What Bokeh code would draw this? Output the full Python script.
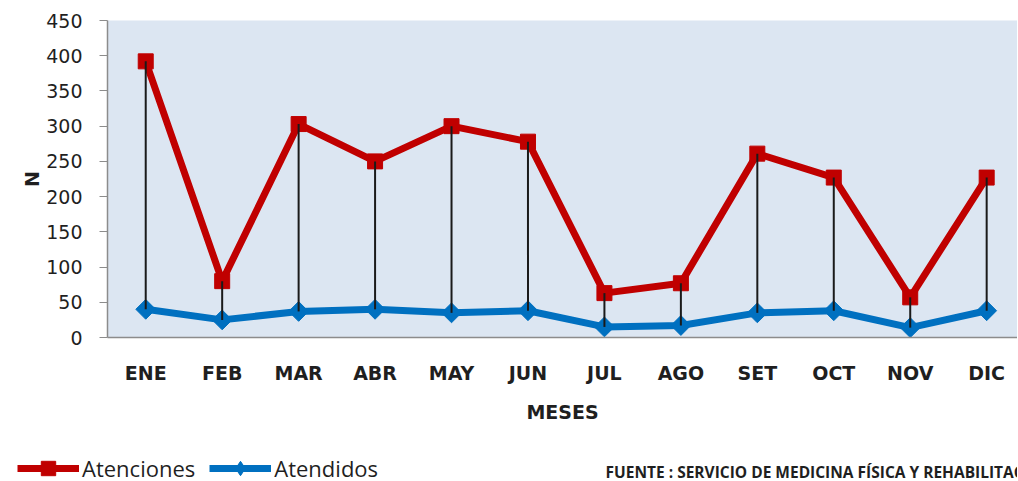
import math
from bokeh.plotting import figure
from bokeh.models import (Range1d, FixedTicker, Legend, LegendItem, Label, LinearAxis,
                          BoxAnnotation)
from bokeh.embed import file_html
from bokeh.resources import INLINE

months = ["ENE", "FEB", "MAR", "ABR", "MAY", "JUN", "JUL", "AGO", "SET", "OCT", "NOV", "DIC"]
atenciones = [392, 80, 303, 250, 300, 278, 63, 77, 261, 227, 57, 227]
atendidos = [40, 25, 37, 40, 35, 38, 15, 17, 35, 38, 14, 38]
y_ticks = [0, 50, 100, 150, 200, 250, 300, 350, 400, 450]
series_names = ["Atenciones", "Atendidos"]
source_text = "FUENTE : SERVICIO DE MEDICINA FÍSICA Y REHABILITACIÓN"

xs = list(range(len(months)))

RED = "#c00000"
BLUE = "#0070c0"
TXT = "#1f1f1f"
AX = "#8c8c8c"

W, H = 1017, 480
# layout geometry (pixels): plot area left/top/bottom as in the reference
PX_PER_X = 76.45
PX_PER_Y = 317 / 450
AREA_LEFT, AREA_TOP, AREA_BOTTOM = 107, 20, 337
x0 = -0.5 - AREA_LEFT / PX_PER_X
x1 = -0.5 + (W - AREA_LEFT) / PX_PER_X
y1 = 450 + AREA_TOP / PX_PER_Y
y0 = -(H - AREA_BOTTOM) / PX_PER_Y

p = figure(width=W, height=H, x_range=Range1d(x0, x1), y_range=Range1d(y0, y1),
           output_backend="svg", toolbar_location=None,
           x_axis_location=None, y_axis_location=None,
           min_border=0, min_border_left=0, min_border_right=0,
           min_border_top=0, min_border_bottom=0)
p.background_fill_color = "white"
p.border_fill_color = "white"
p.outline_line_color = None
p.xgrid.visible = False
p.ygrid.visible = False

p.add_layout(BoxAnnotation(left=-0.5, bottom=0, top=450, fill_color="#dce6f2",
                           fill_alpha=1, line_color=None, level="underlay"))

bl = p.line(xs, atendidos, line_color=BLUE, line_width=7, line_join="round")
bm = p.scatter(xs, atendidos, marker="square", angle=math.pi / 4, size=14,
               fill_color=BLUE, line_color=BLUE)
# diamond used only for the legend swatch
bm_leg = p.scatter(xs, atendidos, marker="diamond", size=14,
                   fill_color=BLUE, line_color=BLUE, visible=False)
rl = p.line(xs, atenciones, line_color=RED, line_width=7, line_join="round")
rm = p.scatter(xs, atenciones, marker="square", size=15, fill_color=RED, line_color=RED)
p.segment(x0=xs, y0=atenciones, x1=xs, y1=atendidos, line_color="#1a1a1a", line_width=2)

# y axis
yaxis = LinearAxis(fixed_location=-0.5, bounds=(0, 450), ticker=FixedTicker(ticks=y_ticks))
yaxis.major_label_text_font = "DejaVu Sans"
yaxis.major_label_text_font_size = "19px"
yaxis.major_label_text_color = TXT
yaxis.axis_line_color = AX
yaxis.axis_line_width = 1.5
yaxis.major_tick_line_color = AX
yaxis.major_tick_out = 8
yaxis.major_tick_in = 0
yaxis.minor_tick_out = 0
yaxis.minor_tick_in = 0
yaxis.major_label_standoff = 17
yaxis.axis_label = "N"
yaxis.axis_label_text_font = "DejaVu Sans"
yaxis.axis_label_text_font_style = "bold"
yaxis.axis_label_text_font_size = "19px"
yaxis.axis_label_text_color = TXT
yaxis.axis_label_standoff = 0
p.add_layout(yaxis, "left")

# x axis
xaxis = LinearAxis(fixed_location=0, bounds=(-0.5, x1), ticker=FixedTicker(ticks=xs))
xaxis.major_label_overrides = {i: m for i, m in enumerate(months)}
xaxis.major_label_text_font = "DejaVu Sans"
xaxis.major_label_text_font_style = "bold"
xaxis.major_label_text_font_size = "19px"
xaxis.major_label_text_color = TXT
xaxis.axis_line_color = AX
xaxis.axis_line_width = 1.5
xaxis.major_tick_out = 0
xaxis.major_tick_in = 0
xaxis.minor_tick_out = 0
xaxis.minor_tick_in = 0
xaxis.major_label_standoff = 24
xaxis.axis_label = "MESES"
xaxis.axis_label_text_font = "DejaVu Sans"
xaxis.axis_label_text_font_style = "bold"
xaxis.axis_label_text_font_size = "19px"
xaxis.axis_label_text_color = TXT
xaxis.axis_label_standoff = 14
p.add_layout(xaxis, "below")

legend = Legend(items=[LegendItem(label=series_names[0], renderers=[rl, rm]),
                       LegendItem(label=series_names[1], renderers=[bl, bm_leg])],
                location=(17, -6), orientation="horizontal",
                glyph_width=62, glyph_height=36, label_standoff=3, spacing=14,
                padding=0, margin=0, border_line_color=None, background_fill_alpha=0,
                inactive_fill_alpha=0,
                label_text_font="Open Sans", label_text_font_size="22px",
                label_text_color=TXT)
p.add_layout(legend)

src = Label(x=605, y=9, x_units="screen", y_units="screen", text=source_text,
            text_font="Open Sans", text_font_style="bold", text_font_size="15.5px",
            text_color=TXT, text_baseline="alphabetic")
p.add_layout(src)

open("out.html", "w").write(file_html(p, INLINE))
